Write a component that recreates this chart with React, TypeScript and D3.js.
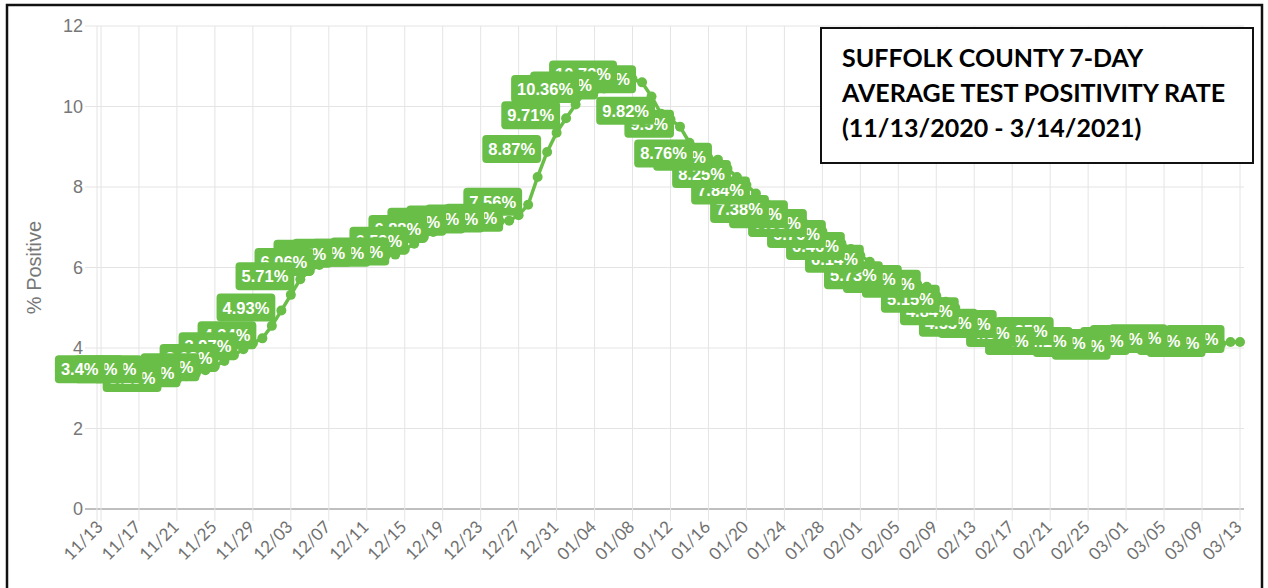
import { useEffect, useRef } from "react";
import * as d3 from "d3";

// daily 7-day average positivity, 11/13/2020 .. 03/13/2021
const startDate = "2020-11-13";
const positivity = [
  3.45, 3.4, 3.41, 3.4, 3.38, 3.4, 3.28, 3.18, 3.22, 3.3,
  3.37, 3.45, 3.55, 3.68, 3.82, 3.97, 4.12, 4.24, 4.55, 4.93,
  5.32, 5.71, 5.92, 6.06, 6.2, 6.27, 6.28, 6.29, 6.3, 6.29,
  6.3, 6.32, 6.45, 6.59, 6.75, 6.88, 7.0, 7.06, 7.1, 7.12,
  7.13, 7.14, 7.15, 7.16, 7.3, 7.56, 8.25, 8.87, 9.35, 9.71,
  10.05, 10.36, 10.4, 10.45, 10.6, 10.72, 10.68, 10.6, 10.25, 9.82,
  9.68, 9.5, 9.1, 8.76, 8.72, 8.68, 8.45, 8.25, 8.05, 7.84,
  7.6, 7.38, 7.32, 7.25, 7.12, 7.03, 6.9, 6.76, 6.6, 6.46,
  6.3, 6.14, 5.92, 5.73, 5.68, 5.64, 5.58, 5.52, 5.3, 5.15,
  5.0, 4.84, 4.7, 4.55, 4.53, 4.52, 4.42, 4.3, 4.2, 4.1,
  4.22, 4.35, 4.22, 4.1, 4.08, 4.05, 4.01, 3.98, 4.04, 4.1,
  4.12, 4.15, 4.16, 4.17, 4.14, 4.1, 4.08, 4.05, 4.1, 4.15,
  4.15,
];
const tickLabels = [
  "11/13", "11/17", "11/21", "11/25", "11/29", "12/03", "12/07", "12/11",
  "12/15", "12/19", "12/23", "12/27", "12/31", "01/04", "01/08", "01/12",
  "01/16", "01/20", "01/24", "01/28", "02/01", "02/05", "02/09", "02/13",
  "02/17", "02/21", "02/25", "03/01", "03/05", "03/09", "03/13",
];
const yTicks = [0, 2, 4, 6, 8, 10, 12];
const yTitle = "% Positive";
const titleLines = [
  "SUFFOLK COUNTY 7-DAY",
  "AVERAGE TEST POSITIVITY RATE",
  "(11/13/2020 - 3/14/2021)",
];

const GREEN = "#69be48";

const App = () => {
  const svgRef = useRef<SVGSVGElement>(null);

  useEffect(() => {
    const svg = d3.select(svgRef.current);
    svg.selectAll("*").remove();

    const fmt = d3.timeFormat("%m/%d");
    const start = d3.timeParse("%Y-%m-%d")(startDate) as Date;
    const dates = positivity.map((_, i) => fmt(d3.timeDay.offset(start, i)));

    const x = d3.scaleLinear().domain([0, positivity.length - 1]).range([101, 1240]);
    const y = d3.scaleLinear().domain([0, 12]).range([509, 26]);

    const plotLeft = 97;
    const plotRight = 1244;

    // outer frame
    svg
      .append("rect")
      .attr("x", 7)
      .attr("y", 5)
      .attr("width", 1255)
      .attr("height", 620)
      .attr("fill", "none")
      .attr("stroke", "#111")
      .attr("stroke-width", 2.5);

    // horizontal grid + y labels
    yTicks.forEach((t) => {
      svg
        .append("line")
        .attr("x1", 85)
        .attr("x2", plotRight)
        .attr("y1", y(t))
        .attr("y2", y(t))
        .attr("stroke", t === 0 ? "#aaa" : "#e4e4e4")
        .attr("stroke-width", t === 0 ? 1.5 : 1);
      svg
        .append("text")
        .attr("x", 83)
        .attr("y", y(t))
        .attr("dy", "0.35em")
        .attr("text-anchor", "end")
        .attr("fill", "#777")
        .attr("font-family", "Liberation Sans, Arial, sans-serif")
        .attr("font-size", 18)
        .text(t);
    });

    // y axis line
    svg
      .append("line")
      .attr("x1", plotLeft)
      .attr("x2", plotLeft)
      .attr("y1", y(12))
      .attr("y2", y(0) + 12)
      .attr("stroke", "#e4e4e4");

    // vertical grid + x labels (only the shown ticks get a grid line)
    dates.forEach((d, i) => {
      if (!tickLabels.includes(d)) return;
      svg
        .append("line")
        .attr("x1", x(i))
        .attr("x2", x(i))
        .attr("y1", y(12))
        .attr("y2", y(0) + 12)
        .attr("stroke", "#e4e4e4");
      svg
        .append("text")
        .attr("transform", `translate(${x(i) + 3}, ${y(0) + 19}) rotate(-45)`)
        .attr("text-anchor", "end")
        .attr("fill", "#707070")
        .attr("font-family", "Lato, sans-serif")
        .attr("font-size", 17)
        .text(d);
    });

    // y title
    svg
      .append("text")
      .attr("transform", `translate(41, ${(y(0) + y(12)) / 2}) rotate(-90)`)
      .attr("text-anchor", "middle")
      .attr("fill", "#777")
      .attr("font-family", "Liberation Sans, Arial, sans-serif")
      .attr("font-size", 20)
      .text(yTitle);

    // line + points
    const line = d3
      .line<number>()
      .x((_, i) => x(i))
      .y((d) => y(d));
    svg
      .append("path")
      .datum(positivity)
      .attr("fill", "none")
      .attr("stroke", GREEN)
      .attr("stroke-width", 3.5)
      .attr("d", line);
    svg
      .selectAll(".pt")
      .data(positivity)
      .join("circle")
      .attr("class", "pt")
      .attr("cx", (_, i) => x(i))
      .attr("cy", (d) => y(d))
      .attr("r", 5)
      .attr("fill", GREEN);

    // data labels on every other day, left of the point;
    // drawn last-to-first so the earlier ones sit on top
    const padX = 6;
    const boxH = 28;
    const gap = 6;
    for (let i = positivity.length - 1; i >= 0; i--) {
      if (i % 2 === 0) continue;
      const v = positivity[i];
      const g = svg.append("g");
      const txt = g
        .append("text")
        .attr("fill", "#fff")
        .attr("font-family", "Liberation Sans, Arial, sans-serif")
        .attr("font-weight", "bold")
        .attr("font-size", 16.5)
        .attr("text-anchor", "middle")
        .attr("dy", "0.36em")
        .text(`${+v}%`);
      const tw = (txt.node() as SVGTextElement).getComputedTextLength();
      const w = tw + padX * 2;
      const right = x(i) - gap;
      const cy = y(v) - 3;
      txt.attr("x", right - w / 2).attr("y", cy);
      g.insert("rect", "text")
        .attr("x", right - w)
        .attr("y", cy - boxH / 2)
        .attr("width", w)
        .attr("height", boxH)
        .attr("rx", 4)
        .attr("fill", GREEN);
    }

    // title box
    svg
      .append("rect")
      .attr("x", 821)
      .attr("y", 28)
      .attr("width", 432)
      .attr("height", 135)
      .attr("fill", "#fff")
      .attr("stroke", "#111")
      .attr("stroke-width", 2);
    titleLines.forEach((t, k) => {
      svg
        .append("text")
        .attr("x", 842)
        .attr("y", 67 + k * 35)
        .attr("fill", "#000")
        .attr("font-family", "Lato, sans-serif")
        .attr("font-weight", "bold")
        .attr("font-size", 25)
        .text(t);
    });
  }, []);

  return (
    <div style={{ position: "absolute", left: 0, top: 0 }}>
      <svg ref={svgRef} width={1268} height={588} style={{ display: "block", background: "#fff" }} />
    </div>
  );
};

export default App;
